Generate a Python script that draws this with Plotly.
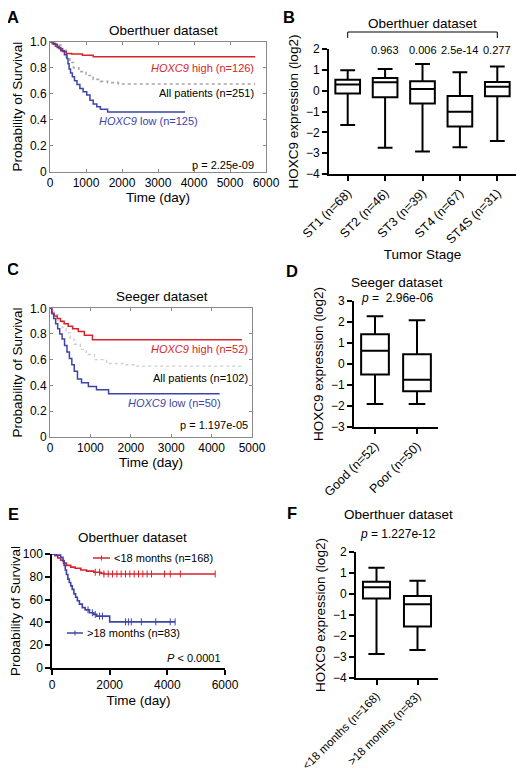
import plotly.graph_objects as go

OFF = 8                      # page body margin of the html page
W, H = 525 - 2 * OFF, 782 - 2 * OFF
FONT = "Liberation Sans, Arial, sans-serif"
RED = "#d8232a"
BLUE = "#3c44a8"

# ---------------- data ----------------
# Panel A: Oberthuer KM (days, survival probability)
A_high_t = [0, 60, 150, 250, 350, 450, 600, 900, 1200, 5700]
A_high_s = [1.0, 0.985, 0.965, 0.945, 0.925, 0.91, 0.905, 0.895, 0.885, 0.885]
A_all_t = [0, 150, 300, 450, 550, 650, 800, 1000, 1200, 1400, 1600, 1900, 5700]
A_all_s = [1.0, 0.975, 0.94, 0.88, 0.84, 0.80, 0.77, 0.74, 0.71, 0.695, 0.685, 0.675, 0.675]
A_low_t = [0, 100, 200, 300, 400, 470, 500, 530, 570, 620, 680, 750, 830, 920, 1020, 1110, 1200, 1300, 1400, 1600, 3750]
A_low_s = [1.0, 0.98, 0.955, 0.93, 0.9, 0.87, 0.83, 0.79, 0.76, 0.73, 0.70, 0.67, 0.64, 0.615, 0.59, 0.55, 0.52, 0.50, 0.48, 0.46, 0.46]

# Panel B: Oberthuer expression by tumor stage
B_cats = ["ST1 (n=68)", "ST2 (n=46)", "ST3 (n=39)", "ST4 (n=67)", "ST4S (n=31)"]
B_upper = [0.98, 1.04, 1.28, 0.88, 1.16]
B_q3 = [0.52, 0.61, 0.45, -0.26, 0.42]
B_med = [0.30, 0.40, 0.08, -1.01, 0.19]
B_q1 = [-0.14, -0.32, -0.61, -1.72, -0.27]
B_lower = [-1.65, -2.74, -2.92, -2.72, -2.41]
B_pvals = ["", "0.963", "0.006", "2.5e-14", "0.277"]

# Panel C: Seeger KM
C_high_t = [0, 50, 100, 180, 260, 350, 450, 560, 700, 850, 1050, 4750]
C_high_s = [1.0, 0.96, 0.94, 0.92, 0.90, 0.88, 0.86, 0.84, 0.82, 0.79, 0.755, 0.755]
C_all_t = [0, 100, 200, 300, 400, 500, 600, 750, 900, 1100, 1400, 1800, 2100, 4750]
C_all_s = [1.0, 0.95, 0.90, 0.85, 0.81, 0.76, 0.72, 0.68, 0.64, 0.60, 0.57, 0.56, 0.55, 0.55]
C_low_t = [0, 40, 90, 140, 190, 240, 300, 360, 420, 480, 540, 600, 680, 780, 950, 1150, 1450, 4200]
C_low_s = [1.0, 0.96, 0.92, 0.88, 0.84, 0.80, 0.76, 0.71, 0.66, 0.61, 0.56, 0.51, 0.45, 0.42, 0.39, 0.365, 0.335, 0.335]

# Panel D: Seeger expression by outcome
D_cats = ["Good (n=52)", "Poor (n=50)"]
D_upper = [2.27, 2.08]
D_q3 = [1.42, 0.47]
D_med = [0.63, -0.75]
D_q1 = [-0.50, -1.30]
D_lower = [-1.90, -1.90]

# Panel E: Oberthuer KM by age (percent)
E_lt_t = [0, 100, 200, 300, 400, 500, 650, 800, 1000, 1200, 1450, 1700, 1800, 5660]
E_lt_s = [100, 98.5, 96.5, 94.5, 92, 90, 88.5, 87.5, 86, 85, 84, 83, 82.5, 82.5]
E_gt_t = [0, 150, 300, 380, 420, 460, 500, 550, 600, 650, 700, 760, 820, 880, 950, 1050, 1150, 1300, 1450, 1550, 2000, 4270]
E_gt_s = [100, 99, 97, 94, 90, 86, 82, 78, 75, 72, 69, 65, 62, 59, 56, 53, 51, 48.5, 47, 45.5, 40.5, 40.5]
E_lt_cens = [1500, 1650, 1800, 1950, 2100, 2250, 2400, 2550, 2700, 2850, 3000, 3150, 3300, 3450, 3900, 4100, 4450, 5660]
E_gt_cens = [1250, 1400, 1500, 1650, 1750, 2550, 2650, 2750, 3100, 3600, 4100, 4270]

# Panel F: Oberthuer expression by age
F_cats = ["&lt;18 months (n=168)", "&gt;18 months (n=83)"]
F_upper = [1.25, 0.63]
F_q3 = [0.58, -0.09]
F_med = [0.32, -0.49]
F_q1 = [-0.22, -1.55]
F_lower = [-2.86, -2.67]


def step_at(ts, ss, x):
    v = ss[0]
    for t, s in zip(ts, ss):
        if t <= x:
            v = s
    return v


def px(x):
    return (x - OFF) / W


def py(y):
    return 1 - (y - OFF) / H


def xd(l, r):
    return [px(l), px(r)]


def yd(top, bottom):
    return [py(bottom), py(top)]


fig = go.Figure()


def km(t, s, color, ax, width=1.5, dash="solid"):
    fig.add_trace(go.Scatter(x=t, y=s, mode="lines",
                             line=dict(shape="hv", color=color, width=width, dash=dash),
                             xaxis="x" + ax, yaxis="y" + ax, hoverinfo="skip"))


# A
km(A_all_t, A_all_s, "#a8a8a8", "", 1.6, "dot")
km(A_high_t, A_high_s, RED, "")
km(A_low_t, A_low_s, BLUE, "")
# C
km(C_all_t, C_all_s, "#cfcfcf", "3", 1.4, "dot")
km(C_high_t, C_high_s, RED, "3")
km(C_low_t, C_low_s, BLUE, "3")
# E
km(E_lt_t, E_lt_s, RED, "5", 1.6)
km(E_gt_t, E_gt_s, BLUE, "5", 1.6)
fig.add_trace(go.Scatter(x=E_lt_cens, y=[step_at(E_lt_t, E_lt_s, c) for c in E_lt_cens],
                         mode="markers", marker=dict(symbol="line-ns", size=5, line=dict(color=RED, width=1)),
                         xaxis="x5", yaxis="y5", hoverinfo="skip"))
fig.add_trace(go.Scatter(x=E_gt_cens, y=[step_at(E_gt_t, E_gt_s, c) for c in E_gt_cens],
                         mode="markers", marker=dict(symbol="line-ns", size=5, line=dict(color=BLUE, width=1)),
                         xaxis="x5", yaxis="y5", hoverinfo="skip"))


def box(cats, lo, q1, med, q3, up, ax):
    fig.add_trace(go.Box(x=cats, lowerfence=lo, q1=q1, median=med, q3=q3, upperfence=up,
                         boxpoints=False, width=0.66, whiskerwidth=0.6,
                         line=dict(color="black", width=2), fillcolor="white",
                         xaxis="x" + ax, yaxis="y" + ax, hoverinfo="skip"))


box(B_cats, B_lower, B_q1, B_med, B_q3, B_upper, "2")
box(D_cats, D_lower, D_q1, D_med, D_q3, D_upper, "4")
box(F_cats, F_lower, F_q1, F_med, F_q3, F_upper, "6")

tickfont = dict(family=FONT, size=12, color="black")
catfont = dict(family=FONT, size=12.5, color="black")
titlefont = dict(family=FONT, size=13.5, color="black")

matlab_x = dict(showline=True, mirror="ticks", linecolor="#8a8a8a", linewidth=1, ticks="inside",
                ticklen=3, tickcolor="#8a8a8a", tickfont=tickfont, zeroline=False, showgrid=False,
                dtick=1000, tick0=0, automargin=False)
matlab_y = dict(showline=True, mirror="ticks", linecolor="#8a8a8a", linewidth=1, ticks="inside",
                ticklen=3, tickcolor="#8a8a8a", tickfont=tickfont, zeroline=False, showgrid=False,
                range=[0, 1], tickvals=[0, 0.2, 0.4, 0.6, 0.8, 1.0],
                ticktext=["0", "0.2", "0.4", "0.6", "0.8", "1.0"], automargin=False)

prism = dict(showline=True, linecolor="black", linewidth=2, ticks="outside", ticklen=5,
             tickwidth=2, tickcolor="black", tickfont=tickfont, zeroline=False, showgrid=False,
             automargin=False)

fig.update_layout(
    width=W, height=H, margin=dict(l=0, r=0, t=0, b=0, autoexpand=False),
    paper_bgcolor="white", plot_bgcolor="white", showlegend=False,
    font=dict(family=FONT, color="black"),
    xaxis=dict(matlab_x, domain=xd(50, 266), range=[0, 6000], anchor="y",
               title=dict(text="Time (day)", font=titlefont, standoff=2)),
    yaxis=dict(matlab_y, domain=yd(41.7, 171.7), anchor="x",
               title=dict(text="Probability of Survival", font=titlefont, standoff=4)),
    xaxis2=dict(prism, domain=xd(329, 516), range=[-0.5, 4.5], anchor="y2", type="category",
                tickangle=-45, tickfont=catfont,
                title=dict(text="Tumor Stage", font=titlefont, standoff=2)),
    yaxis2=dict(prism, domain=yd(49, 174), range=[-4, 2], anchor="x2", dtick=1,
                title=dict(text="HOXC9 expression (log2)", font=titlefont, standoff=4)),
    xaxis3=dict(matlab_x, domain=xd(50, 252), range=[0, 5000], anchor="y3",
                title=dict(text="Time (day)", font=titlefont, standoff=2)),
    yaxis3=dict(matlab_y, domain=yd(308.3, 436.7), anchor="x3",
                title=dict(text="Probability of Survival", font=titlefont, standoff=4)),
    xaxis4=dict(prism, domain=xd(354, 438), range=[-0.5, 1.5], anchor="y4", type="category",
                tickangle=-45, tickfont=catfont),
    yaxis4=dict(prism, domain=yd(301, 427), range=[-3, 3], anchor="x4", dtick=1,
                title=dict(text="HOXC9 expression (log2)", font=titlefont, standoff=4)),
    xaxis5=dict(prism, domain=xd(52, 225), range=[0, 6000], anchor="y5", linewidth=1.5, tickwidth=1.5,
                tickvals=[0, 2000, 4000, 6000],
                title=dict(text="Time (day)", font=titlefont, standoff=4)),
    yaxis5=dict(prism, domain=yd(554, 668), range=[0, 100], anchor="x5", linewidth=1.5, tickwidth=1.5,
                dtick=20,
                title=dict(text="Probability of Survival", font=titlefont, standoff=4)),
    xaxis6=dict(prism, domain=xd(356, 438), range=[-0.5, 1.5], anchor="y6", type="category",
                tickangle=-45, tickfont=dict(family=FONT, size=11.5, color="black")),
    yaxis6=dict(prism, domain=yd(552, 678), range=[-4, 2], anchor="x6", dtick=1,
                title=dict(text="HOXC9 expression (log2)", font=titlefont, standoff=4)),
)

ann = []


def text(x, y, s, size=12, color="black", xanchor="center", bold=False):
    ann.append(dict(x=px(x), y=py(y), xref="paper", yref="paper", text=("<b>%s</b>" % s) if bold else s,
                    showarrow=False, xanchor=xanchor, yanchor="middle",
                    font=dict(family=FONT, size=size, color=color)))


# panel letters
for L, x, y in [("A", 13, 17), ("B", 289, 17), ("C", 13, 269), ("D", 292, 271), ("E", 13, 514), ("F", 292, 513)]:
    text(x, y, L, size=16.5, bold=True)

# A
text(163, 30, "Oberthuer dataset", 13.5)
text(256, 68, "<i>HOXC9</i> high (n=126)", 11, RED, "right")
text(256, 93, "All patients (n=251)", 11, "black", "right")
text(97, 121, "<i>HOXC9</i> low (n=125)", 11, BLUE, "left")
text(256, 165, "p = 2.25e-09", 11, "black", "right")

# B
text(422, 23, "Oberthuer dataset", 13.5)
for i, p in enumerate(B_pvals):
    if p:
        ann.append(dict(x=B_cats[i], y=py(50), xref="x2", yref="paper", text=p, showarrow=False,
                        yanchor="middle", font=dict(family=FONT, size=11, color="black")))

# C
text(162, 297, "Seeger dataset", 13.5)
text(250, 349, "<i>HOXC9</i> high (n=52)", 11, RED, "right")
text(250, 378, "All patients (n=102)", 11, "black", "right")
text(126, 403, "<i>HOXC9</i> low (n=50)", 11, BLUE, "left")
text(250, 425, "p = 1.197e-05", 11, "black", "right")

# D
text(397, 282, "Seeger dataset", 13.5)
text(397, 298, "<i>p</i> =  2.96e-06", 12)

# E
text(132, 537, "Oberthuer dataset", 13.5)
text(112, 558, "&lt;18 months (n=168)", 11, "black", "left")
text(85, 633, "&gt;18 months (n=83)", 11, "black", "left")
text(223, 658, "<i>P</i> &lt; 0.0001", 11, "black", "right")

# F
text(398, 514, "Oberthuer dataset", 13.5)
text(398, 534, "<i>p</i> = 1.227e-12", 12)

fig.update_layout(annotations=ann)

shapes = []
# bracket in B
shapes.append(dict(type="line", xref="x2", yref="paper", x0=0, x1=4, y0=py(32), y1=py(32),
                   line=dict(color="black", width=1)))
for c in (0, 4):
    shapes.append(dict(type="line", xref="x2", yref="paper", x0=c, x1=c, y0=py(32), y1=py(38),
                       line=dict(color="black", width=1)))
# E legend keys
for (x0, x1, y, col) in [(93, 110, 558, RED), (67, 83, 633, BLUE)]:
    shapes.append(dict(type="line", xref="paper", yref="paper", x0=px(x0), x1=px(x1), y0=py(y), y1=py(y),
                       line=dict(color=col, width=1.5)))
    xm = (x0 + x1) / 2
    shapes.append(dict(type="line", xref="paper", yref="paper", x0=px(xm), x1=px(xm), y0=py(y - 2.5), y1=py(y + 2.5),
                       line=dict(color=col, width=1)))
fig.update_layout(shapes=shapes)

fig.write_html("out.html")
